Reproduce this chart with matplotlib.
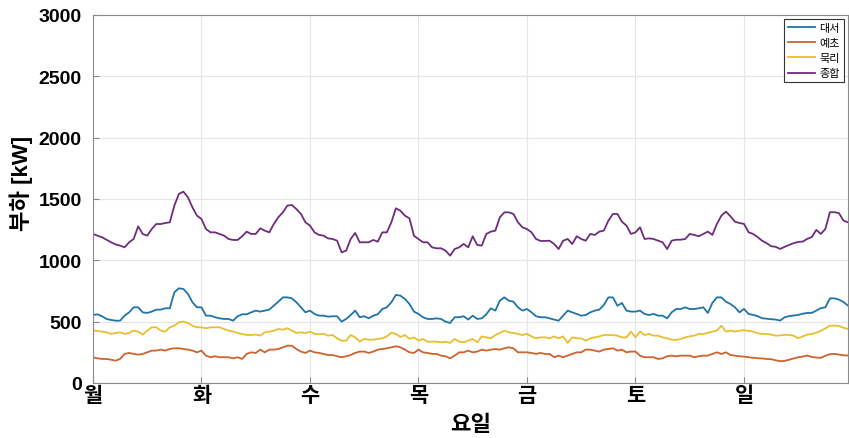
import matplotlib.pyplot as plt
import numpy as np

plt.rcParams['font.family'] = ['Liberation Sans', 'Noto Sans CJK KR']

# 요일 / 시간 (1시간 간격, 7일)
days = ['월', '화', '수', '목', '금', '토', '일']
hours = np.arange(7 * 24) / 24

# 부하 [kW]
daeseo = [
    554, 560, 544, 522, 514, 508, 508, 549, 576, 617, 617, 576, 571, 582, 598, 598, 609, 609, 739, 772, 766, 726, 658, 617,
    617, 549, 549, 536, 527, 522, 522, 508, 544, 560, 560, 576, 590, 582, 590, 598, 630, 663, 698, 698, 690, 658, 617, 576,
    590, 563, 549, 549, 541, 544, 544, 500, 522, 554, 590, 536, 544, 527, 549, 560, 603, 617, 658, 718, 712, 685, 644, 582,
    563, 536, 522, 522, 527, 522, 500, 489, 536, 536, 544, 517, 549, 522, 527, 560, 609, 590, 671, 698, 671, 663, 617, 590,
    603, 576, 544, 536, 536, 527, 517, 508, 549, 590, 576, 563, 549, 554, 576, 590, 598, 636, 698, 698, 630, 652, 590, 582,
    582, 590, 563, 554, 563, 549, 549, 527, 576, 603, 603, 617, 603, 603, 609, 617, 571, 652, 698, 698, 663, 644, 617, 576,
    604, 563, 555, 545, 528, 524, 520, 517, 509, 536, 545, 550, 555, 565, 571, 571, 590, 610, 617, 690, 690, 680, 660, 631,
]
yecho = [
    210, 201, 196, 196, 190, 182, 196, 237, 245, 237, 231, 237, 250, 264, 264, 272, 264, 277, 283, 283, 277, 272, 264, 250,
    264, 223, 210, 218, 210, 210, 210, 201, 210, 196, 237, 250, 245, 272, 250, 272, 272, 277, 291, 304, 304, 277, 256, 245,
    264, 250, 245, 237, 228, 228, 218, 210, 218, 228, 245, 256, 256, 245, 256, 272, 277, 283, 291, 299, 291, 272, 250, 245,
    272, 250, 245, 237, 237, 223, 218, 201, 223, 250, 250, 264, 250, 256, 272, 264, 272, 277, 272, 283, 291, 283, 250, 250,
    250, 245, 237, 245, 237, 237, 210, 223, 210, 223, 237, 250, 250, 272, 272, 264, 256, 272, 277, 283, 264, 272, 250, 256,
    256, 223, 210, 210, 210, 196, 201, 218, 223, 218, 223, 223, 223, 210, 218, 223, 223, 237, 250, 237, 250, 228, 223, 218,
    215, 210, 205, 202, 200, 196, 194, 185, 178, 180, 190, 200, 210, 215, 224, 212, 208, 205, 222, 235, 237, 232, 226, 224,
]
mukri = [
    427, 424, 419, 413, 400, 408, 413, 400, 408, 427, 419, 394, 427, 454, 454, 427, 419, 454, 467, 495, 500, 489, 467, 454,
    454, 446, 454, 454, 454, 440, 427, 420, 408, 400, 391, 391, 395, 386, 413, 419, 427, 440, 435, 446, 427, 408, 413, 408,
    419, 400, 400, 400, 386, 391, 364, 345, 345, 391, 372, 337, 359, 353, 353, 359, 364, 380, 410, 400, 375, 391, 360, 372,
    345, 359, 337, 337, 337, 332, 337, 326, 359, 337, 332, 345, 359, 332, 380, 372, 364, 391, 408, 427, 413, 408, 400, 391,
    400, 380, 364, 372, 372, 364, 380, 364, 380, 326, 372, 364, 364, 345, 364, 372, 380, 391, 391, 391, 386, 372, 372, 419,
    372, 419, 391, 400, 386, 386, 372, 364, 353, 351, 359, 372, 380, 386, 400, 400, 408, 419, 427, 467, 419, 427, 419, 427,
    430, 425, 419, 405, 400, 400, 395, 386, 388, 392, 392, 385, 365, 380, 395, 400, 410, 425, 445, 468, 468, 465, 450, 441,
]
total = [
    1215, 1201, 1188, 1168, 1147, 1130, 1120, 1106, 1147, 1174, 1277, 1215, 1201, 1255, 1296, 1296, 1304, 1310, 1446, 1541, 1560, 1514, 1432, 1364,
    1337, 1255, 1228, 1228, 1215, 1201, 1174, 1166, 1166, 1196, 1234, 1215, 1215, 1261, 1242, 1228, 1296, 1351, 1391, 1446, 1451, 1418, 1378, 1310,
    1283, 1228, 1207, 1201, 1179, 1174, 1160, 1065, 1079, 1174, 1223, 1147, 1147, 1147, 1166, 1152, 1228, 1228, 1310, 1424, 1405, 1364, 1342, 1200,
    1174, 1147, 1147, 1106, 1098, 1098, 1079, 1038, 1092, 1106, 1133, 1106, 1196, 1125, 1120, 1215, 1234, 1242, 1351, 1391, 1391, 1378, 1310, 1269,
    1255, 1228, 1174, 1158, 1158, 1160, 1133, 1092, 1160, 1174, 1133, 1196, 1174, 1160, 1215, 1207, 1234, 1242, 1323, 1378, 1378, 1315, 1283, 1215,
    1228, 1269, 1174, 1179, 1174, 1160, 1147, 1092, 1160, 1168, 1168, 1174, 1215, 1207, 1196, 1215, 1234, 1207, 1296, 1364, 1397, 1359, 1315, 1304,
    1297, 1229, 1215, 1190, 1160, 1140, 1115, 1110, 1093, 1110, 1126, 1140, 1150, 1153, 1175, 1190, 1248, 1215, 1256, 1392, 1392, 1385, 1324, 1310,
]

fig = plt.figure(figsize=(8.49, 4.39), dpi=100)
ax = fig.add_axes([0.1095, 0.1253, 0.8893, 0.8383])

ax.plot(hours, daeseo, color='#1f74a8', lw=1.3, label='대서')
ax.plot(hours, yecho, color='#d0622e', lw=1.3, label='예초')
ax.plot(hours, mukri, color='#e8bf30', lw=1.3, label='묵리')
ax.plot(hours, total, color='#6e2d7c', lw=1.3, label='종합')

ax.set_xlim(0, hours[-1])
ax.set_ylim(0, 3000)
ax.set_xticks(np.arange(7))
ax.set_xticklabels(days, fontsize=15, fontweight='bold')
ax.set_yticks(np.arange(0, 3001, 500))
for t in ax.get_yticklabels():
    t.set_fontweight('bold')
ax.tick_params(axis='y', labelsize=14, direction='in', length=4, pad=8, color='#888888')
ax.tick_params(axis='x', direction='in', length=4, pad=2, color='#888888')

ax.grid(True, color='#e6e6e6', lw=0.8)
for s in ax.spines.values():
    s.set_color('#8a8a8a')

ax.set_xlabel('요일', fontsize=16, fontweight='bold', labelpad=6)
ax.set_ylabel('부하 [kW]', fontsize=16, fontweight='bold')
ax.yaxis.set_label_coords(-0.08, 0.545)

leg = ax.legend(loc='upper right', fontsize=8, fancybox=False, framealpha=1,
                edgecolor='#333333', handlelength=2.4, borderpad=0.35,
                labelspacing=0.45, handletextpad=0.4, borderaxespad=0.4)
leg.get_frame().set_linewidth(0.8)

fig.savefig('out.png', dpi=100)
